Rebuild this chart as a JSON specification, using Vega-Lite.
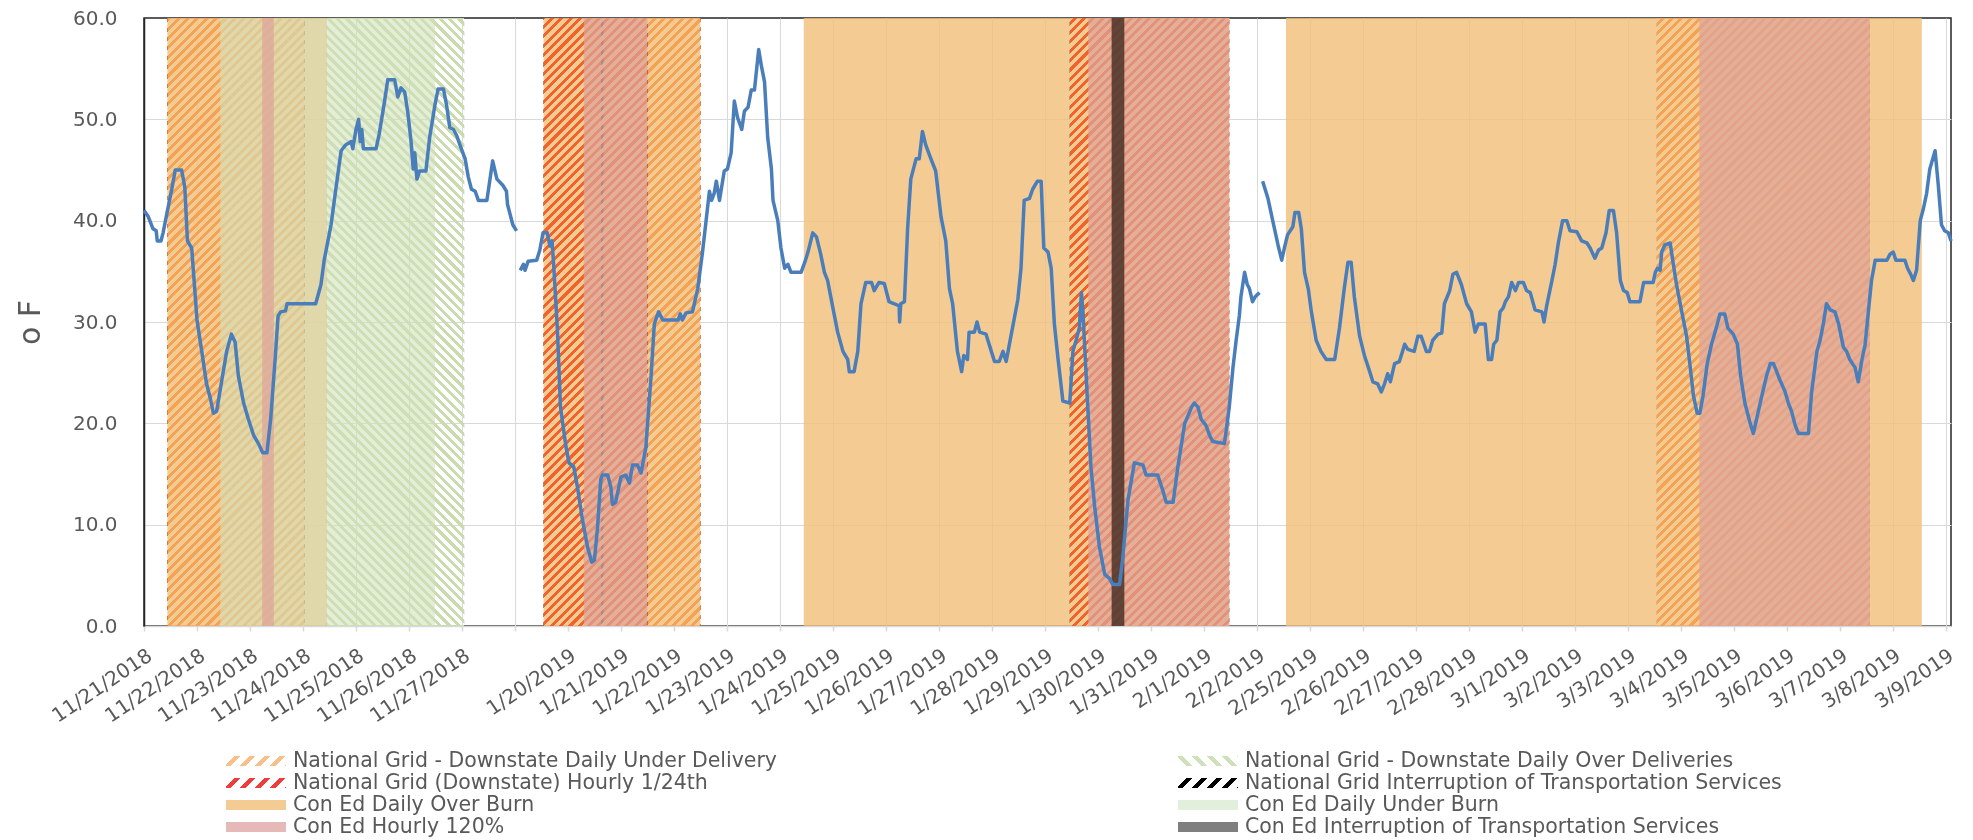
{
"$schema": "https://vega.github.io/schema/vega-lite/v6.json",
"background": "white",
"padding": {"left": 14, "top": 7, "right": 10, "bottom": 4},
"bounds": "flush",
"spacing": 135,
"config": {"font": "DejaVu Sans", "view": {"stroke": null}},
"params": [{"name": "hatchStops", "value": [
{"offset":0,"color":"#fff"},{"offset":0.0061,"color":"#fff"},{"offset":0.0061,"color":"#000"},{"offset":0.0111,"color":"#000"},
{"offset":0.0111,"color":"#fff"},{"offset":0.0172,"color":"#fff"},{"offset":0.0172,"color":"#000"},{"offset":0.0222,"color":"#000"},
{"offset":0.0222,"color":"#fff"},{"offset":0.0283,"color":"#fff"},{"offset":0.0283,"color":"#000"},{"offset":0.0333,"color":"#000"},
{"offset":0.0333,"color":"#fff"},{"offset":0.0394,"color":"#fff"},{"offset":0.0394,"color":"#000"},{"offset":0.0444,"color":"#000"},
{"offset":0.0444,"color":"#fff"},{"offset":0.0506,"color":"#fff"},{"offset":0.0506,"color":"#000"},{"offset":0.0556,"color":"#000"},
{"offset":0.0556,"color":"#fff"},{"offset":0.0617,"color":"#fff"},{"offset":0.0617,"color":"#000"},{"offset":0.0667,"color":"#000"},
{"offset":0.0667,"color":"#fff"},{"offset":0.0728,"color":"#fff"},{"offset":0.0728,"color":"#000"},{"offset":0.0778,"color":"#000"},
{"offset":0.0778,"color":"#fff"},{"offset":0.0839,"color":"#fff"},{"offset":0.0839,"color":"#000"},{"offset":0.0889,"color":"#000"},
{"offset":0.0889,"color":"#fff"},{"offset":0.095,"color":"#fff"},{"offset":0.095,"color":"#000"},{"offset":0.1,"color":"#000"},
{"offset":0.1,"color":"#fff"},{"offset":0.1061,"color":"#fff"},{"offset":0.1061,"color":"#000"},{"offset":0.1111,"color":"#000"},
{"offset":0.1111,"color":"#fff"},{"offset":0.1172,"color":"#fff"},{"offset":0.1172,"color":"#000"},{"offset":0.1222,"color":"#000"},
{"offset":0.1222,"color":"#fff"},{"offset":0.1283,"color":"#fff"},{"offset":0.1283,"color":"#000"},{"offset":0.1333,"color":"#000"},
{"offset":0.1333,"color":"#fff"},{"offset":0.1394,"color":"#fff"},{"offset":0.1394,"color":"#000"},{"offset":0.1444,"color":"#000"},
{"offset":0.1444,"color":"#fff"},{"offset":0.1506,"color":"#fff"},{"offset":0.1506,"color":"#000"},{"offset":0.1556,"color":"#000"},
{"offset":0.1556,"color":"#fff"},{"offset":0.1617,"color":"#fff"},{"offset":0.1617,"color":"#000"},{"offset":0.1667,"color":"#000"},
{"offset":0.1667,"color":"#fff"},{"offset":0.1728,"color":"#fff"},{"offset":0.1728,"color":"#000"},{"offset":0.1778,"color":"#000"},
{"offset":0.1778,"color":"#fff"},{"offset":0.1839,"color":"#fff"},{"offset":0.1839,"color":"#000"},{"offset":0.1889,"color":"#000"},
{"offset":0.1889,"color":"#fff"},{"offset":0.195,"color":"#fff"},{"offset":0.195,"color":"#000"},{"offset":0.2,"color":"#000"},
{"offset":0.2,"color":"#fff"},{"offset":0.2061,"color":"#fff"},{"offset":0.2061,"color":"#000"},{"offset":0.2111,"color":"#000"},
{"offset":0.2111,"color":"#fff"},{"offset":0.2172,"color":"#fff"},{"offset":0.2172,"color":"#000"},{"offset":0.2222,"color":"#000"},
{"offset":0.2222,"color":"#fff"},{"offset":0.2283,"color":"#fff"},{"offset":0.2283,"color":"#000"},{"offset":0.2333,"color":"#000"},
{"offset":0.2333,"color":"#fff"},{"offset":0.2394,"color":"#fff"},{"offset":0.2394,"color":"#000"},{"offset":0.2444,"color":"#000"},
{"offset":0.2444,"color":"#fff"},{"offset":0.2506,"color":"#fff"},{"offset":0.2506,"color":"#000"},{"offset":0.2556,"color":"#000"},
{"offset":0.2556,"color":"#fff"},{"offset":0.2617,"color":"#fff"},{"offset":0.2617,"color":"#000"},{"offset":0.2667,"color":"#000"},
{"offset":0.2667,"color":"#fff"},{"offset":0.2728,"color":"#fff"},{"offset":0.2728,"color":"#000"},{"offset":0.2778,"color":"#000"},
{"offset":0.2778,"color":"#fff"},{"offset":0.2839,"color":"#fff"},{"offset":0.2839,"color":"#000"},{"offset":0.2889,"color":"#000"},
{"offset":0.2889,"color":"#fff"},{"offset":0.295,"color":"#fff"},{"offset":0.295,"color":"#000"},{"offset":0.3,"color":"#000"},
{"offset":0.3,"color":"#fff"},{"offset":0.3061,"color":"#fff"},{"offset":0.3061,"color":"#000"},{"offset":0.3111,"color":"#000"},
{"offset":0.3111,"color":"#fff"},{"offset":0.3172,"color":"#fff"},{"offset":0.3172,"color":"#000"},{"offset":0.3222,"color":"#000"},
{"offset":0.3222,"color":"#fff"},{"offset":0.3283,"color":"#fff"},{"offset":0.3283,"color":"#000"},{"offset":0.3333,"color":"#000"},
{"offset":0.3333,"color":"#fff"},{"offset":0.3394,"color":"#fff"},{"offset":0.3394,"color":"#000"},{"offset":0.3444,"color":"#000"},
{"offset":0.3444,"color":"#fff"},{"offset":0.3506,"color":"#fff"},{"offset":0.3506,"color":"#000"},{"offset":0.3556,"color":"#000"},
{"offset":0.3556,"color":"#fff"},{"offset":0.3617,"color":"#fff"},{"offset":0.3617,"color":"#000"},{"offset":0.3667,"color":"#000"},
{"offset":0.3667,"color":"#fff"},{"offset":0.3728,"color":"#fff"},{"offset":0.3728,"color":"#000"},{"offset":0.3778,"color":"#000"},
{"offset":0.3778,"color":"#fff"},{"offset":0.3839,"color":"#fff"},{"offset":0.3839,"color":"#000"},{"offset":0.3889,"color":"#000"},
{"offset":0.3889,"color":"#fff"},{"offset":0.395,"color":"#fff"},{"offset":0.395,"color":"#000"},{"offset":0.4,"color":"#000"},
{"offset":0.4,"color":"#fff"},{"offset":0.4061,"color":"#fff"},{"offset":0.4061,"color":"#000"},{"offset":0.4111,"color":"#000"},
{"offset":0.4111,"color":"#fff"},{"offset":0.4172,"color":"#fff"},{"offset":0.4172,"color":"#000"},{"offset":0.4222,"color":"#000"},
{"offset":0.4222,"color":"#fff"},{"offset":0.4283,"color":"#fff"},{"offset":0.4283,"color":"#000"},{"offset":0.4333,"color":"#000"},
{"offset":0.4333,"color":"#fff"},{"offset":0.4394,"color":"#fff"},{"offset":0.4394,"color":"#000"},{"offset":0.4444,"color":"#000"},
{"offset":0.4444,"color":"#fff"},{"offset":0.4506,"color":"#fff"},{"offset":0.4506,"color":"#000"},{"offset":0.4556,"color":"#000"},
{"offset":0.4556,"color":"#fff"},{"offset":0.4617,"color":"#fff"},{"offset":0.4617,"color":"#000"},{"offset":0.4667,"color":"#000"},
{"offset":0.4667,"color":"#fff"},{"offset":0.4728,"color":"#fff"},{"offset":0.4728,"color":"#000"},{"offset":0.4778,"color":"#000"},
{"offset":0.4778,"color":"#fff"},{"offset":0.4839,"color":"#fff"},{"offset":0.4839,"color":"#000"},{"offset":0.4889,"color":"#000"},
{"offset":0.4889,"color":"#fff"},{"offset":0.495,"color":"#fff"},{"offset":0.495,"color":"#000"},{"offset":0.5,"color":"#000"},
{"offset":0.5,"color":"#fff"},{"offset":0.5061,"color":"#fff"},{"offset":0.5061,"color":"#000"},{"offset":0.5111,"color":"#000"},
{"offset":0.5111,"color":"#fff"},{"offset":0.5172,"color":"#fff"},{"offset":0.5172,"color":"#000"},{"offset":0.5222,"color":"#000"},
{"offset":0.5222,"color":"#fff"},{"offset":0.5283,"color":"#fff"},{"offset":0.5283,"color":"#000"},{"offset":0.5333,"color":"#000"},
{"offset":0.5333,"color":"#fff"},{"offset":0.5394,"color":"#fff"},{"offset":0.5394,"color":"#000"},{"offset":0.5444,"color":"#000"},
{"offset":0.5444,"color":"#fff"},{"offset":0.5506,"color":"#fff"},{"offset":0.5506,"color":"#000"},{"offset":0.5556,"color":"#000"},
{"offset":0.5556,"color":"#fff"},{"offset":0.5617,"color":"#fff"},{"offset":0.5617,"color":"#000"},{"offset":0.5667,"color":"#000"},
{"offset":0.5667,"color":"#fff"},{"offset":0.5728,"color":"#fff"},{"offset":0.5728,"color":"#000"},{"offset":0.5778,"color":"#000"},
{"offset":0.5778,"color":"#fff"},{"offset":0.5839,"color":"#fff"},{"offset":0.5839,"color":"#000"},{"offset":0.5889,"color":"#000"},
{"offset":0.5889,"color":"#fff"},{"offset":0.595,"color":"#fff"},{"offset":0.595,"color":"#000"},{"offset":0.6,"color":"#000"},
{"offset":0.6,"color":"#fff"},{"offset":0.6061,"color":"#fff"},{"offset":0.6061,"color":"#000"},{"offset":0.6111,"color":"#000"},
{"offset":0.6111,"color":"#fff"},{"offset":0.6172,"color":"#fff"},{"offset":0.6172,"color":"#000"},{"offset":0.6222,"color":"#000"},
{"offset":0.6222,"color":"#fff"},{"offset":0.6283,"color":"#fff"},{"offset":0.6283,"color":"#000"},{"offset":0.6333,"color":"#000"},
{"offset":0.6333,"color":"#fff"},{"offset":0.6394,"color":"#fff"},{"offset":0.6394,"color":"#000"},{"offset":0.6444,"color":"#000"},
{"offset":0.6444,"color":"#fff"},{"offset":0.6506,"color":"#fff"},{"offset":0.6506,"color":"#000"},{"offset":0.6556,"color":"#000"},
{"offset":0.6556,"color":"#fff"},{"offset":0.6617,"color":"#fff"},{"offset":0.6617,"color":"#000"},{"offset":0.6667,"color":"#000"},
{"offset":0.6667,"color":"#fff"},{"offset":0.6728,"color":"#fff"},{"offset":0.6728,"color":"#000"},{"offset":0.6778,"color":"#000"},
{"offset":0.6778,"color":"#fff"},{"offset":0.6839,"color":"#fff"},{"offset":0.6839,"color":"#000"},{"offset":0.6889,"color":"#000"},
{"offset":0.6889,"color":"#fff"},{"offset":0.695,"color":"#fff"},{"offset":0.695,"color":"#000"},{"offset":0.7,"color":"#000"},
{"offset":0.7,"color":"#fff"},{"offset":0.7061,"color":"#fff"},{"offset":0.7061,"color":"#000"},{"offset":0.7111,"color":"#000"},
{"offset":0.7111,"color":"#fff"},{"offset":0.7172,"color":"#fff"},{"offset":0.7172,"color":"#000"},{"offset":0.7222,"color":"#000"},
{"offset":0.7222,"color":"#fff"},{"offset":0.7283,"color":"#fff"},{"offset":0.7283,"color":"#000"},{"offset":0.7333,"color":"#000"},
{"offset":0.7333,"color":"#fff"},{"offset":0.7394,"color":"#fff"},{"offset":0.7394,"color":"#000"},{"offset":0.7444,"color":"#000"},
{"offset":0.7444,"color":"#fff"},{"offset":0.7506,"color":"#fff"},{"offset":0.7506,"color":"#000"},{"offset":0.7556,"color":"#000"},
{"offset":0.7556,"color":"#fff"},{"offset":0.7617,"color":"#fff"},{"offset":0.7617,"color":"#000"},{"offset":0.7667,"color":"#000"},
{"offset":0.7667,"color":"#fff"},{"offset":0.7728,"color":"#fff"},{"offset":0.7728,"color":"#000"},{"offset":0.7778,"color":"#000"},
{"offset":0.7778,"color":"#fff"},{"offset":0.7839,"color":"#fff"},{"offset":0.7839,"color":"#000"},{"offset":0.7889,"color":"#000"},
{"offset":0.7889,"color":"#fff"},{"offset":0.795,"color":"#fff"},{"offset":0.795,"color":"#000"},{"offset":0.8,"color":"#000"},
{"offset":0.8,"color":"#fff"},{"offset":0.8061,"color":"#fff"},{"offset":0.8061,"color":"#000"},{"offset":0.8111,"color":"#000"},
{"offset":0.8111,"color":"#fff"},{"offset":0.8172,"color":"#fff"},{"offset":0.8172,"color":"#000"},{"offset":0.8222,"color":"#000"},
{"offset":0.8222,"color":"#fff"},{"offset":0.8283,"color":"#fff"},{"offset":0.8283,"color":"#000"},{"offset":0.8333,"color":"#000"},
{"offset":0.8333,"color":"#fff"},{"offset":0.8394,"color":"#fff"},{"offset":0.8394,"color":"#000"},{"offset":0.8444,"color":"#000"},
{"offset":0.8444,"color":"#fff"},{"offset":0.8506,"color":"#fff"},{"offset":0.8506,"color":"#000"},{"offset":0.8556,"color":"#000"},
{"offset":0.8556,"color":"#fff"},{"offset":0.8617,"color":"#fff"},{"offset":0.8617,"color":"#000"},{"offset":0.8667,"color":"#000"},
{"offset":0.8667,"color":"#fff"},{"offset":0.8728,"color":"#fff"},{"offset":0.8728,"color":"#000"},{"offset":0.8778,"color":"#000"},
{"offset":0.8778,"color":"#fff"},{"offset":0.8839,"color":"#fff"},{"offset":0.8839,"color":"#000"},{"offset":0.8889,"color":"#000"},
{"offset":0.8889,"color":"#fff"},{"offset":0.895,"color":"#fff"},{"offset":0.895,"color":"#000"},{"offset":0.9,"color":"#000"},
{"offset":0.9,"color":"#fff"},{"offset":0.9061,"color":"#fff"},{"offset":0.9061,"color":"#000"},{"offset":0.9111,"color":"#000"},
{"offset":0.9111,"color":"#fff"},{"offset":0.9172,"color":"#fff"},{"offset":0.9172,"color":"#000"},{"offset":0.9222,"color":"#000"},
{"offset":0.9222,"color":"#fff"},{"offset":0.9283,"color":"#fff"},{"offset":0.9283,"color":"#000"},{"offset":0.9333,"color":"#000"},
{"offset":0.9333,"color":"#fff"},{"offset":0.9394,"color":"#fff"},{"offset":0.9394,"color":"#000"},{"offset":0.9444,"color":"#000"},
{"offset":0.9444,"color":"#fff"},{"offset":0.9506,"color":"#fff"},{"offset":0.9506,"color":"#000"},{"offset":0.9556,"color":"#000"},
{"offset":0.9556,"color":"#fff"},{"offset":0.9617,"color":"#fff"},{"offset":0.9617,"color":"#000"},{"offset":0.9667,"color":"#000"},
{"offset":0.9667,"color":"#fff"},{"offset":0.9728,"color":"#fff"},{"offset":0.9728,"color":"#000"},{"offset":0.9778,"color":"#000"},
{"offset":0.9778,"color":"#fff"},{"offset":0.9839,"color":"#fff"},{"offset":0.9839,"color":"#000"},{"offset":0.9889,"color":"#000"},
{"offset":0.9889,"color":"#fff"},{"offset":0.995,"color":"#fff"},{"offset":0.995,"color":"#000"},{"offset":1,"color":"#000"}
]}],
"datasets": {
"bands": [
{"cat":"Con Ed Daily Over Burn","s":0.44,"e":3.45},
{"cat":"Con Ed Daily Over Burn","s":7.54,"e":10.5},
{"cat":"Con Ed Daily Over Burn","s":12.45,"e":20.48},
{"cat":"Con Ed Daily Over Burn","s":21.55,"e":33.55},
{"cat":"National Grid - Downstate Daily Under Delivery","s":0.44,"e":3.03},
{"cat":"National Grid - Downstate Daily Under Delivery","s":9.5,"e":10.5},
{"cat":"National Grid - Downstate Daily Under Delivery","s":28.55,"e":32.57},
{"cat":"National Grid (Downstate) Hourly 1/24th","s":7.54,"e":9.5},
{"cat":"National Grid (Downstate) Hourly 1/24th","s":17.47,"e":20.48},
{"cat":"National Grid Interruption of Transportation Services","s":8.625,"e":8.667},
{"cat":"National Grid - Downstate Daily Over Deliveries","s":3.45,"e":6.04},
{"cat":"Con Ed Daily Under Burn","s":1.44,"e":5.49},
{"cat":"Con Ed Hourly 120%","s":2.23,"e":2.45},
{"cat":"Con Ed Hourly 120%","s":8.3,"e":9.5},
{"cat":"Con Ed Hourly 120%","s":17.82,"e":20.48},
{"cat":"Con Ed Hourly 120%","s":29.35,"e":32.57},
{"cat":"Con Ed Interruption of Transportation Services","s":18.26,"e":18.5}
],
"temps": [
{"t":0,"v":41,"seg":1},{"t":0.08,"v":40.4,"seg":1},{"t":0.17,"v":39.2,"seg":1},{"t":0.23,"v":39,"seg":1},{"t":0.25,"v":38,"seg":1},{"t":0.32,"v":38,"seg":1},{"t":0.36,"v":38.8,"seg":1},{"t":0.42,"v":40.4,"seg":1},{"t":0.52,"v":43,"seg":1},{"t":0.59,"v":45,"seg":1},{"t":0.71,"v":45,"seg":1},{"t":0.77,"v":43.3,"seg":1},{"t":0.82,"v":38,"seg":1},{"t":0.9,"v":37.3,"seg":1},{"t":1.0,"v":30.2,"seg":1},{"t":1.09,"v":27.1,"seg":1},{"t":1.18,"v":23.9,"seg":1},{"t":1.25,"v":22.5,"seg":1},{"t":1.31,"v":21,"seg":1},{"t":1.37,"v":21.2,"seg":1},{"t":1.47,"v":24.3,"seg":1},{"t":1.56,"v":27.1,"seg":1},{"t":1.65,"v":28.8,"seg":1},{"t":1.72,"v":28,"seg":1},{"t":1.78,"v":24.7,"seg":1},{"t":1.88,"v":22,"seg":1},{"t":1.97,"v":20.4,"seg":1},{"t":2.07,"v":18.8,"seg":1},{"t":2.16,"v":18,"seg":1},{"t":2.24,"v":17.1,"seg":1},{"t":2.32,"v":17.1,"seg":1},{"t":2.39,"v":20.4,"seg":1},{"t":2.48,"v":26.7,"seg":1},{"t":2.53,"v":30.6,"seg":1},{"t":2.58,"v":31,"seg":1},{"t":2.67,"v":31.1,"seg":1},{"t":2.7,"v":31.8,"seg":1},{"t":3.24,"v":31.8,"seg":1},{"t":3.34,"v":33.7,"seg":1},{"t":3.4,"v":36.1,"seg":1},{"t":3.53,"v":39.6,"seg":1},{"t":3.62,"v":43.1,"seg":1},{"t":3.72,"v":46.9,"seg":1},{"t":3.81,"v":47.5,"seg":1},{"t":3.91,"v":47.8,"seg":1},{"t":3.94,"v":47.1,"seg":1},{"t":4.0,"v":49,"seg":1},{"t":4.05,"v":50,"seg":1},{"t":4.08,"v":47.8,"seg":1},{"t":4.11,"v":49,"seg":1},{"t":4.14,"v":47.1,"seg":1},{"t":4.38,"v":47.1,"seg":1},{"t":4.44,"v":48.6,"seg":1},{"t":4.54,"v":51.8,"seg":1},{"t":4.6,"v":53.9,"seg":1},{"t":4.73,"v":53.9,"seg":1},{"t":4.79,"v":52.2,"seg":1},{"t":4.85,"v":53.1,"seg":1},{"t":4.92,"v":52.7,"seg":1},{"t":4.98,"v":50.6,"seg":1},{"t":5.04,"v":47.8,"seg":1},{"t":5.08,"v":45.1,"seg":1},{"t":5.11,"v":46.7,"seg":1},{"t":5.15,"v":44.1,"seg":1},{"t":5.2,"v":44.9,"seg":1},{"t":5.32,"v":44.9,"seg":1},{"t":5.39,"v":48.2,"seg":1},{"t":5.49,"v":51.4,"seg":1},{"t":5.55,"v":53,"seg":1},{"t":5.65,"v":53,"seg":1},{"t":5.71,"v":51.4,"seg":1},{"t":5.77,"v":49.2,"seg":1},{"t":5.84,"v":49,"seg":1},{"t":5.9,"v":48.4,"seg":1},{"t":5.96,"v":47.5,"seg":1},{"t":6.06,"v":46.1,"seg":1},{"t":6.12,"v":44.3,"seg":1},{"t":6.18,"v":43.1,"seg":1},{"t":6.25,"v":42.9,"seg":1},{"t":6.31,"v":42,"seg":1},{"t":6.47,"v":42,"seg":1},{"t":6.58,"v":45.9,"seg":1},{"t":6.66,"v":44.1,"seg":1},{"t":6.77,"v":43.5,"seg":1},{"t":6.84,"v":42.9,"seg":1},{"t":6.86,"v":41.6,"seg":1},{"t":6.96,"v":39.6,"seg":1},{"t":7.03,"v":39,"seg":1},
{"t":7.1,"v":35.1,"seg":2},{"t":7.16,"v":35.7,"seg":2},{"t":7.19,"v":35.1,"seg":2},{"t":7.25,"v":36,"seg":2},{"t":7.41,"v":36.1,"seg":2},{"t":7.47,"v":37.1,"seg":2},{"t":7.53,"v":38.8,"seg":2},{"t":7.61,"v":38.8,"seg":2},{"t":7.66,"v":37.5,"seg":2},{"t":7.7,"v":38,"seg":2},{"t":7.73,"v":35.7,"seg":2},{"t":7.8,"v":29.4,"seg":2},{"t":7.86,"v":21.6,"seg":2},{"t":7.96,"v":17.8,"seg":2},{"t":8.02,"v":16.1,"seg":2},{"t":8.11,"v":15.7,"seg":2},{"t":8.18,"v":13.7,"seg":2},{"t":8.27,"v":10.6,"seg":2},{"t":8.37,"v":7.8,"seg":2},{"t":8.45,"v":6.3,"seg":2},{"t":8.5,"v":6.5,"seg":2},{"t":8.56,"v":9.8,"seg":2},{"t":8.62,"v":14.5,"seg":2},{"t":8.65,"v":14.9,"seg":2},{"t":8.75,"v":14.9,"seg":2},{"t":8.81,"v":13.7,"seg":2},{"t":8.84,"v":12,"seg":2},{"t":8.9,"v":12.2,"seg":2},{"t":9.0,"v":14.7,"seg":2},{"t":9.09,"v":14.9,"seg":2},{"t":9.16,"v":14.1,"seg":2},{"t":9.22,"v":15.9,"seg":2},{"t":9.31,"v":15.9,"seg":2},{"t":9.38,"v":15.1,"seg":2},{"t":9.47,"v":17.6,"seg":2},{"t":9.57,"v":24.7,"seg":2},{"t":9.63,"v":29.8,"seg":2},{"t":9.71,"v":31,"seg":2},{"t":9.79,"v":30.2,"seg":2},{"t":10.08,"v":30.2,"seg":2},{"t":10.12,"v":30.8,"seg":2},{"t":10.16,"v":30.2,"seg":2},{"t":10.23,"v":30.9,"seg":2},{"t":10.35,"v":31,"seg":2},{"t":10.45,"v":33.3,"seg":2},{"t":10.54,"v":36.9,"seg":2},{"t":10.67,"v":42.9,"seg":2},{"t":10.71,"v":42,"seg":2},{"t":10.76,"v":42.7,"seg":2},{"t":10.8,"v":43.9,"seg":2},{"t":10.86,"v":42,"seg":2},{"t":10.95,"v":44.9,"seg":2},{"t":11.01,"v":45.1,"seg":2},{"t":11.08,"v":46.7,"seg":2},{"t":11.14,"v":51.8,"seg":2},{"t":11.2,"v":50.2,"seg":2},{"t":11.28,"v":49,"seg":2},{"t":11.33,"v":50.8,"seg":2},{"t":11.4,"v":51.2,"seg":2},{"t":11.46,"v":52.9,"seg":2},{"t":11.52,"v":52.9,"seg":2},{"t":11.6,"v":56.9,"seg":2},{"t":11.65,"v":55.3,"seg":2},{"t":11.71,"v":53.7,"seg":2},{"t":11.77,"v":48.2,"seg":2},{"t":11.84,"v":45.1,"seg":2},{"t":11.87,"v":42,"seg":2},{"t":11.96,"v":40,"seg":2},{"t":12.02,"v":37.3,"seg":2},{"t":12.09,"v":35.3,"seg":2},{"t":12.15,"v":35.7,"seg":2},{"t":12.21,"v":34.9,"seg":2},{"t":12.4,"v":34.9,"seg":2},{"t":12.47,"v":35.9,"seg":2},{"t":12.53,"v":36.9,"seg":2},{"t":12.62,"v":38.8,"seg":2},{"t":12.69,"v":38.4,"seg":2},{"t":12.77,"v":36.7,"seg":2},{"t":12.84,"v":34.9,"seg":2},{"t":12.9,"v":34.1,"seg":2},{"t":13.0,"v":31.4,"seg":2},{"t":13.09,"v":29,"seg":2},{"t":13.19,"v":27.1,"seg":2},{"t":13.28,"v":26.3,"seg":2},{"t":13.31,"v":25.1,"seg":2},{"t":13.4,"v":25.1,"seg":2},{"t":13.47,"v":27.1,"seg":2},{"t":13.53,"v":31.8,"seg":2},{"t":13.62,"v":33.9,"seg":2},{"t":13.73,"v":33.9,"seg":2},{"t":13.78,"v":33.1,"seg":2},{"t":13.87,"v":33.9,"seg":2},{"t":13.97,"v":33.8,"seg":2},{"t":14.06,"v":32,"seg":2},{"t":14.16,"v":31.8,"seg":2},{"t":14.25,"v":31.6,"seg":2},{"t":14.26,"v":30,"seg":2},{"t":14.28,"v":31.8,"seg":2},{"t":14.35,"v":32,"seg":2},{"t":14.41,"v":39.2,"seg":2},{"t":14.47,"v":44.1,"seg":2},{"t":14.57,"v":46.1,"seg":2},{"t":14.63,"v":46.1,"seg":2},{"t":14.69,"v":48.8,"seg":2},{"t":14.75,"v":47.5,"seg":2},{"t":14.85,"v":46.1,"seg":2},{"t":14.94,"v":44.9,"seg":2},{"t":15.04,"v":40.4,"seg":2},{"t":15.13,"v":38,"seg":2},{"t":15.2,"v":33.3,"seg":2},{"t":15.26,"v":31.8,"seg":2},{"t":15.35,"v":27.1,"seg":2},{"t":15.43,"v":25.1,"seg":2},{"t":15.47,"v":26.7,"seg":2},{"t":15.54,"v":26.3,"seg":2},{"t":15.57,"v":29,"seg":2},{"t":15.67,"v":29,"seg":2},{"t":15.72,"v":30,"seg":2},{"t":15.77,"v":29,"seg":2},{"t":15.89,"v":28.8,"seg":2},{"t":15.99,"v":27.1,"seg":2},{"t":16.05,"v":26.1,"seg":2},{"t":16.14,"v":26.1,"seg":2},{"t":16.21,"v":27.1,"seg":2},{"t":16.27,"v":26.1,"seg":2},{"t":16.36,"v":28.6,"seg":2},{"t":16.49,"v":32.2,"seg":2},{"t":16.55,"v":35.3,"seg":2},{"t":16.61,"v":42,"seg":2},{"t":16.71,"v":42.2,"seg":2},{"t":16.77,"v":43.1,"seg":2},{"t":16.86,"v":43.9,"seg":2},{"t":16.93,"v":43.9,"seg":2},{"t":16.98,"v":37.3,"seg":2},{"t":17.06,"v":36.9,"seg":2},{"t":17.12,"v":35.3,"seg":2},{"t":17.18,"v":29.8,"seg":2},{"t":17.25,"v":26.3,"seg":2},{"t":17.34,"v":22.2,"seg":2},{"t":17.47,"v":22,"seg":2},{"t":17.53,"v":27.1,"seg":2},{"t":17.59,"v":28.2,"seg":2},{"t":17.65,"v":29.4,"seg":2},{"t":17.69,"v":32.9,"seg":2},{"t":17.72,"v":31,"seg":2},{"t":17.75,"v":27.8,"seg":2},{"t":17.81,"v":21.6,"seg":2},{"t":17.87,"v":15.7,"seg":2},{"t":17.94,"v":11.8,"seg":2},{"t":18.03,"v":7.8,"seg":2},{"t":18.13,"v":5.1,"seg":2},{"t":18.22,"v":4.7,"seg":2},{"t":18.28,"v":4.1,"seg":2},{"t":18.41,"v":4.1,"seg":2},{"t":18.47,"v":6.7,"seg":2},{"t":18.57,"v":12.5,"seg":2},{"t":18.69,"v":16.1,"seg":2},{"t":18.85,"v":15.9,"seg":2},{"t":18.91,"v":14.9,"seg":2},{"t":19.13,"v":14.9,"seg":2},{"t":19.23,"v":13.3,"seg":2},{"t":19.29,"v":12.2,"seg":2},{"t":19.42,"v":12.2,"seg":2},{"t":19.51,"v":15.7,"seg":2},{"t":19.64,"v":20,"seg":2},{"t":19.77,"v":21.6,"seg":2},{"t":19.82,"v":22,"seg":2},{"t":19.89,"v":21.6,"seg":2},{"t":19.95,"v":20.4,"seg":2},{"t":20.04,"v":19.8,"seg":2},{"t":20.11,"v":18.8,"seg":2},{"t":20.17,"v":18.2,"seg":2},{"t":20.39,"v":18,"seg":2},{"t":20.48,"v":21.6,"seg":2},{"t":20.55,"v":25.5,"seg":2},{"t":20.61,"v":28.2,"seg":2},{"t":20.67,"v":30.6,"seg":2},{"t":20.7,"v":32.5,"seg":2},{"t":20.77,"v":34.9,"seg":2},{"t":20.82,"v":33.7,"seg":2},{"t":20.86,"v":33.3,"seg":2},{"t":20.92,"v":32,"seg":2},{"t":20.97,"v":32.5,"seg":2},{"t":21.05,"v":32.9,"seg":2},
{"t":21.11,"v":43.9,"seg":3},{"t":21.21,"v":42.2,"seg":3},{"t":21.3,"v":40,"seg":3},{"t":21.4,"v":37.6,"seg":3},{"t":21.47,"v":36.1,"seg":3},{"t":21.52,"v":37.3,"seg":3},{"t":21.58,"v":38.6,"seg":3},{"t":21.68,"v":39.4,"seg":3},{"t":21.72,"v":40.8,"seg":3},{"t":21.79,"v":40.8,"seg":3},{"t":21.84,"v":39.2,"seg":3},{"t":21.9,"v":34.9,"seg":3},{"t":21.97,"v":33.3,"seg":3},{"t":22.03,"v":31,"seg":3},{"t":22.12,"v":28.2,"seg":3},{"t":22.21,"v":27.1,"seg":3},{"t":22.31,"v":26.3,"seg":3},{"t":22.47,"v":26.3,"seg":3},{"t":22.56,"v":29.4,"seg":3},{"t":22.65,"v":33.3,"seg":3},{"t":22.72,"v":35.9,"seg":3},{"t":22.78,"v":35.9,"seg":3},{"t":22.84,"v":32.5,"seg":3},{"t":22.94,"v":28.6,"seg":3},{"t":23.03,"v":26.7,"seg":3},{"t":23.13,"v":25.1,"seg":3},{"t":23.19,"v":24.1,"seg":3},{"t":23.28,"v":23.9,"seg":3},{"t":23.35,"v":23.1,"seg":3},{"t":23.41,"v":23.9,"seg":3},{"t":23.47,"v":24.9,"seg":3},{"t":23.52,"v":24.1,"seg":3},{"t":23.6,"v":25.9,"seg":3},{"t":23.69,"v":26.1,"seg":3},{"t":23.75,"v":27.1,"seg":3},{"t":23.79,"v":27.8,"seg":3},{"t":23.85,"v":27.3,"seg":3},{"t":23.97,"v":27.1,"seg":3},{"t":24.04,"v":28.6,"seg":3},{"t":24.1,"v":28.6,"seg":3},{"t":24.2,"v":27.1,"seg":3},{"t":24.26,"v":27.1,"seg":3},{"t":24.32,"v":28.2,"seg":3},{"t":24.42,"v":28.8,"seg":3},{"t":24.49,"v":28.9,"seg":3},{"t":24.54,"v":31.8,"seg":3},{"t":24.64,"v":33.1,"seg":3},{"t":24.7,"v":34.7,"seg":3},{"t":24.77,"v":34.9,"seg":3},{"t":24.86,"v":33.7,"seg":3},{"t":24.96,"v":31.8,"seg":3},{"t":25.05,"v":31,"seg":3},{"t":25.12,"v":29,"seg":3},{"t":25.18,"v":29.8,"seg":3},{"t":25.31,"v":29.8,"seg":3},{"t":25.37,"v":26.3,"seg":3},{"t":25.43,"v":26.3,"seg":3},{"t":25.47,"v":27.8,"seg":3},{"t":25.53,"v":28.2,"seg":3},{"t":25.59,"v":31,"seg":3},{"t":25.65,"v":31.4,"seg":3},{"t":25.69,"v":32,"seg":3},{"t":25.75,"v":32.5,"seg":3},{"t":25.81,"v":33.9,"seg":3},{"t":25.88,"v":33.1,"seg":3},{"t":25.94,"v":33.9,"seg":3},{"t":26.03,"v":33.9,"seg":3},{"t":26.09,"v":33.1,"seg":3},{"t":26.16,"v":32.9,"seg":3},{"t":26.25,"v":31.2,"seg":3},{"t":26.38,"v":31,"seg":3},{"t":26.42,"v":30,"seg":3},{"t":26.47,"v":31.6,"seg":3},{"t":26.57,"v":34.1,"seg":3},{"t":26.63,"v":35.7,"seg":3},{"t":26.69,"v":37.8,"seg":3},{"t":26.77,"v":40,"seg":3},{"t":26.85,"v":40,"seg":3},{"t":26.91,"v":39,"seg":3},{"t":27.04,"v":38.9,"seg":3},{"t":27.13,"v":38,"seg":3},{"t":27.23,"v":37.8,"seg":3},{"t":27.29,"v":37.3,"seg":3},{"t":27.38,"v":36.3,"seg":3},{"t":27.45,"v":37.1,"seg":3},{"t":27.51,"v":37.3,"seg":3},{"t":27.59,"v":38.8,"seg":3},{"t":27.65,"v":41,"seg":3},{"t":27.73,"v":41,"seg":3},{"t":27.79,"v":38.8,"seg":3},{"t":27.86,"v":34.1,"seg":3},{"t":27.92,"v":33.1,"seg":3},{"t":27.99,"v":32.9,"seg":3},{"t":28.04,"v":32,"seg":3},{"t":28.23,"v":32,"seg":3},{"t":28.3,"v":33.9,"seg":3},{"t":28.48,"v":33.9,"seg":3},{"t":28.52,"v":34.9,"seg":3},{"t":28.56,"v":35.3,"seg":3},{"t":28.61,"v":35.1,"seg":3},{"t":28.64,"v":36.9,"seg":3},{"t":28.7,"v":37.6,"seg":3},{"t":28.8,"v":37.8,"seg":3},{"t":28.86,"v":35.7,"seg":3},{"t":28.92,"v":33.7,"seg":3},{"t":28.99,"v":31.8,"seg":3},{"t":29.05,"v":30.2,"seg":3},{"t":29.11,"v":28.6,"seg":3},{"t":29.18,"v":25.5,"seg":3},{"t":29.24,"v":22.7,"seg":3},{"t":29.31,"v":21,"seg":3},{"t":29.36,"v":21,"seg":3},{"t":29.42,"v":22.7,"seg":3},{"t":29.5,"v":25.9,"seg":3},{"t":29.58,"v":27.8,"seg":3},{"t":29.67,"v":29.4,"seg":3},{"t":29.74,"v":30.8,"seg":3},{"t":29.83,"v":30.8,"seg":3},{"t":29.89,"v":29.4,"seg":3},{"t":29.99,"v":28.8,"seg":3},{"t":30.07,"v":27.8,"seg":3},{"t":30.13,"v":24.7,"seg":3},{"t":30.21,"v":22,"seg":3},{"t":30.31,"v":20,"seg":3},{"t":30.37,"v":19,"seg":3},{"t":30.43,"v":20.4,"seg":3},{"t":30.53,"v":22.7,"seg":3},{"t":30.62,"v":24.7,"seg":3},{"t":30.69,"v":25.9,"seg":3},{"t":30.75,"v":25.9,"seg":3},{"t":30.81,"v":25.1,"seg":3},{"t":30.87,"v":24.3,"seg":3},{"t":30.97,"v":23.1,"seg":3},{"t":31.03,"v":22,"seg":3},{"t":31.09,"v":21.2,"seg":3},{"t":31.16,"v":19.8,"seg":3},{"t":31.22,"v":19,"seg":3},{"t":31.41,"v":19,"seg":3},{"t":31.47,"v":23.1,"seg":3},{"t":31.57,"v":27.1,"seg":3},{"t":31.63,"v":28.2,"seg":3},{"t":31.69,"v":29.8,"seg":3},{"t":31.75,"v":31.8,"seg":3},{"t":31.82,"v":31.2,"seg":3},{"t":31.91,"v":31,"seg":3},{"t":31.98,"v":29.8,"seg":3},{"t":32.07,"v":27.5,"seg":3},{"t":32.13,"v":27.1,"seg":3},{"t":32.19,"v":26.3,"seg":3},{"t":32.29,"v":25.5,"seg":3},{"t":32.35,"v":24.1,"seg":3},{"t":32.42,"v":26.3,"seg":3},{"t":32.48,"v":27.8,"seg":3},{"t":32.54,"v":31,"seg":3},{"t":32.6,"v":34.1,"seg":3},{"t":32.67,"v":36.1,"seg":3},{"t":32.89,"v":36.1,"seg":3},{"t":32.95,"v":36.7,"seg":3},{"t":33.01,"v":36.9,"seg":3},{"t":33.06,"v":36.1,"seg":3},{"t":33.23,"v":36.1,"seg":3},{"t":33.28,"v":35.3,"seg":3},{"t":33.34,"v":34.7,"seg":3},{"t":33.39,"v":34.1,"seg":3},{"t":33.45,"v":35.1,"seg":3},{"t":33.52,"v":40,"seg":3},{"t":33.58,"v":41.2,"seg":3},{"t":33.64,"v":42.7,"seg":3},{"t":33.7,"v":45.1,"seg":3},{"t":33.8,"v":46.9,"seg":3},{"t":33.86,"v":43.5,"seg":3},{"t":33.92,"v":39.6,"seg":3},{"t":33.98,"v":39,"seg":3},{"t":34.05,"v":38.8,"seg":3},{"t":34.1,"v":38,"seg":3}
],
"legend": [
{"label":"National Grid - Downstate Daily Under Delivery","col":0,"row":0,"kind":"ho"},
{"label":"National Grid (Downstate) Hourly 1/24th","col":0,"row":1,"kind":"hr"},
{"label":"Con Ed Daily Over Burn","col":0,"row":2,"kind":"so"},
{"label":"Con Ed Hourly 120%","col":0,"row":3,"kind":"sp"},
{"label":"National Grid - Downstate Daily Over Deliveries","col":1,"row":0,"kind":"hg"},
{"label":"National Grid Interruption of Transportation Services","col":1,"row":1,"kind":"hk"},
{"label":"Con Ed Daily Under Burn","col":1,"row":2,"kind":"sg"},
{"label":"Con Ed Interruption of Transportation Services","col":1,"row":3,"kind":"sk"}
]
},
"vconcat": [
{
"width": 1807, "height": 608,
"view": {"stroke": "#262626", "strokeWidth": 1.5},
"layer": [
{
"data": {"name": "bands"},
"encoding": {
"x": {"field": "s", "type": "quantitative", "title": null},
"x2": {"field": "e"},
"y": {"datum": 60, "type": "quantitative", "title": "o F"},
"y2": {"datum": 0}
},
"layer": [
{"transform": [{"filter": {"field": "cat", "equal": "Con Ed Daily Over Burn"}}],
 "mark": {"type": "rect", "fill": "#f2be79", "fillOpacity": 0.8}},
{"transform": [{"filter": {"field": "cat", "equal": "National Grid - Downstate Daily Under Delivery"}}],
 "mark": {"type": "rect", "blend": "multiply", "fill": {"expr": "{gradient:'linear',x1:-((datum.s*52.9912)%9.3333)/((datum.e-datum.s)*52.9912),y1:0,x2:-((datum.s*52.9912)%9.3333)/((datum.e-datum.s)*52.9912)+840*(datum.e-datum.s)*52.9912/(pow((datum.e-datum.s)*52.9912,2)+369664),y2:510720/(pow((datum.e-datum.s)*52.9912,2)+369664),stops:hatchStops}"}}},
{"transform": [{"filter": {"field": "cat", "equal": "National Grid - Downstate Daily Under Delivery"}}],
 "mark": {"type": "rect", "blend": "lighten", "fill": "#f4a354"}},
{"transform": [{"filter": {"field": "cat", "equal": "National Grid (Downstate) Hourly 1/24th"}}],
 "mark": {"type": "rect", "blend": "multiply", "fill": {"expr": "{gradient:'linear',x1:-((datum.s*52.9912)%9.3333)/((datum.e-datum.s)*52.9912),y1:0,x2:-((datum.s*52.9912)%9.3333)/((datum.e-datum.s)*52.9912)+840*(datum.e-datum.s)*52.9912/(pow((datum.e-datum.s)*52.9912,2)+369664),y2:510720/(pow((datum.e-datum.s)*52.9912,2)+369664),stops:hatchStops}"}}},
{"transform": [{"filter": {"field": "cat", "equal": "National Grid (Downstate) Hourly 1/24th"}}],
 "mark": {"type": "rect", "blend": "lighten", "fill": "#f2622a"}},
{"transform": [{"filter": {"field": "cat", "equal": "National Grid Interruption of Transportation Services"}}],
 "mark": {"type": "rect", "blend": "multiply", "fill": {"expr": "{gradient:'linear',x1:-((datum.s*52.9912)%9.3333)/((datum.e-datum.s)*52.9912),y1:0,x2:-((datum.s*52.9912)%9.3333)/((datum.e-datum.s)*52.9912)+840*(datum.e-datum.s)*52.9912/(pow((datum.e-datum.s)*52.9912,2)+369664),y2:510720/(pow((datum.e-datum.s)*52.9912,2)+369664),stops:hatchStops}"}}},
{"transform": [{"filter": {"field": "cat", "equal": "National Grid Interruption of Transportation Services"}}],
 "mark": {"type": "rect", "blend": "lighten", "fill": "#4a4a4a"}},
{"transform": [{"filter": {"field": "cat", "equal": "National Grid - Downstate Daily Over Deliveries"}}],
 "mark": {"type": "rect", "blend": "multiply", "fill": {"expr": "{gradient:'linear',x1:-((datum.s*52.9912)%9.3333)/((datum.e-datum.s)*52.9912),y1:1,x2:-((datum.s*52.9912)%9.3333)/((datum.e-datum.s)*52.9912)+840*(datum.e-datum.s)*52.9912/(pow((datum.e-datum.s)*52.9912,2)+369664),y2:1-510720/(pow((datum.e-datum.s)*52.9912,2)+369664),stops:hatchStops}"}}},
{"transform": [{"filter": {"field": "cat", "equal": "National Grid - Downstate Daily Over Deliveries"}}],
 "mark": {"type": "rect", "blend": "lighten", "fill": "#c8dcae"}},
{"transform": [{"filter": {"field": "cat", "equal": "Con Ed Daily Under Burn"}}],
 "mark": {"type": "rect", "fill": "#d2e1bb", "fillOpacity": 0.6}},
{"transform": [{"filter": {"field": "cat", "equal": "Con Ed Hourly 120%"}}],
 "mark": {"type": "rect", "fill": "#dea39a", "fillOpacity": 0.72}},
{"transform": [{"filter": {"field": "cat", "equal": "Con Ed Interruption of Transportation Services"}}],
 "mark": {"type": "rect", "fill": "#402a22", "fillOpacity": 0.8}}
]
},
{
"data": {"name": "temps"},
"mark": {"type": "line", "color": "#4a7ebb", "strokeWidth": 3.5, "strokeJoin": "round"},
"encoding": {
"x": {"field": "t", "type": "quantitative", "title": null, "scale": {"domain": [0, 34.1], "nice": false, "zero": false},
"axis": {"title": null, "values": [0,0.5,1,1.5,2,2.5,3,3.5,4,4.5,5,5.5,6,6.5,7,7.5,8,8.5,9,9.5,10,10.5,11,11.5,12,12.5,13,13.5,14,14.5,15,15.5,16,16.5,17,17.5,18,18.5,19,19.5,20,20.5,21,21.5,22,22.5,23,23.5,24,24.5,25,25.5,26,26.5,27,27.5,28,28.5,29,29.5,30,30.5,31,31.5,32,32.5,33,33.5,34],
"labelExpr": "datum.value % 1 ? '' : ['11/21/2018','11/22/2018','11/23/2018','11/24/2018','11/25/2018','11/26/2018','11/27/2018','','1/20/2019','1/21/2019','1/22/2019','1/23/2019','1/24/2019','1/25/2019','1/26/2019','1/27/2019','1/28/2019','1/29/2019','1/30/2019','1/31/2019','2/1/2019','2/2/2019','2/25/2019','2/26/2019','2/27/2019','2/28/2019','3/1/2019','3/2/2019','3/3/2019','3/4/2019','3/5/2019','3/6/2019','3/7/2019','3/8/2019','3/9/2019'][datum.value]",
"labelAngle": -34, "labelAlign": "right", "labelBaseline": "top", "labelPadding": 14,
"labelFont": "DejaVu Sans", "labelFontSize": 20, "labelColor": "#595959",
"labelOverlap": false, "labelFlush": false,
"tickColor": "#d9d9d9", "tickSize": 5, "tickWidth": 1.5,
"tickOpacity": {"condition": {"test": "datum.value % 1 === 0", "value": 1}, "value": 0},
"domainColor": "#d9d9d9", "domainWidth": 1.5,
"grid": true, "gridColor": "#d9d9d9", "gridWidth": 1,
"gridOpacity": {"condition": {"test": "datum.value === 0", "value": 0}, "value": 1}}},
"y": {"field": "v", "type": "quantitative", "title": "o F", "scale": {"domain": [0, 60], "nice": false},
"axis": {"title": "o F", "titleFont": "DejaVu Sans", "titleFontSize": 30, "titleFontWeight": "normal", "titleColor": "#595959", "titlePadding": 27,
"values": [0,10,20,30,40,50,60], "format": ".1f",
"labelFont": "DejaVu Sans", "labelFontSize": 20, "labelColor": "#595959", "labelPadding": 27,
"ticks": false, "domainColor": "#262626", "domainWidth": 1.5,
"grid": true, "gridColor": "#d9d9d9", "gridWidth": 1,
"gridOpacity": {"condition": {"test": "datum.value === 60", "value": 0}, "value": 1}}},
"detail": {"field": "seg"}
}
}
]
},
{
"width": 1807, "height": 66,
"data": {"name": "legend"},
"encoding": {
"x": {"field": "col", "type": "quantitative", "scale": {"domain": [-0.11765, 1.78046], "nice": false, "zero": false}, "axis": null},
"y": {"field": "row", "type": "quantitative", "scale": {"domain": [3, 0], "nice": false, "zero": false}, "axis": null}
},
"layer": [
{"transform": [{"filter": {"field": "kind", "oneOf": ["ho", "hr", "hk"]}}],
 "mark": {"type": "rect", "width": 60, "height": 10, "blend": "multiply", "fill": {"expr": "{gradient:'linear',x1:0,y1:0,x2:21.892,y2:3.6486,stops:hatchStops}"}}},
{"transform": [{"filter": {"field": "kind", "equal": "hg"}}],
 "mark": {"type": "rect", "width": 60, "height": 10, "blend": "multiply", "fill": {"expr": "{gradient:'linear',x1:0,y1:1,x2:21.892,y2:-2.6486,stops:hatchStops}"}}},
{"transform": [{"filter": {"field": "kind", "oneOf": ["ho", "hr", "hg", "hk"]}}],
 "mark": {"type": "rect", "width": 60, "height": 10, "blend": "lighten"},
 "encoding": {"fill": {"field": "kind", "type": "nominal", "legend": null, "scale": {"domain": ["ho","hr","hg","hk","so","sp","sg","sk"], "range": ["#f8bf8a","#f23c3c","#cfe0bb","#000000","#f5cb94","#e6b9b8","#e2efda","#7f7f7f"]}}}},
{"transform": [{"filter": {"field": "kind", "oneOf": ["so", "sp", "sg", "sk"]}}],
 "mark": {"type": "rect", "width": 60, "height": 10},
 "encoding": {"fill": {"field": "kind", "type": "nominal", "legend": null, "scale": {"domain": ["ho","hr","hg","hk","so","sp","sg","sk"], "range": ["#f8bf8a","#f23c3c","#cfe0bb","#000000","#f5cb94","#e6b9b8","#e2efda","#7f7f7f"]}}}},
{"mark": {"type": "text", "align": "left", "baseline": "middle", "dx": 37, "font": "DejaVu Sans", "fontSize": 20.5, "color": "#595959"},
 "encoding": {"text": {"field": "label"}}}
]
}
]
}
